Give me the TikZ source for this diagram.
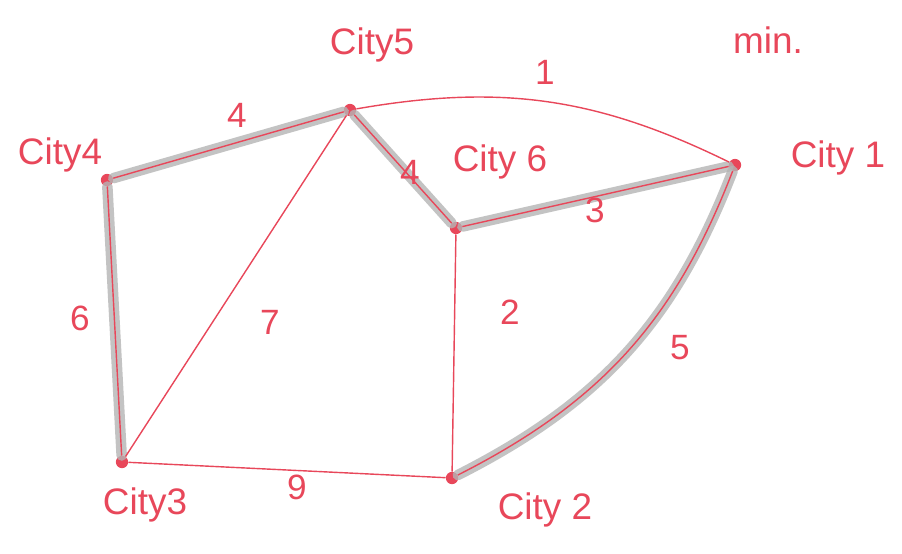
\documentclass[tikz,border=0pt]{standalone}
\usepackage{fontspec}
\setmainfont{Liberation Sans}
\usepackage{xcolor}
\usetikzlibrary{positioning,calc}
\definecolor{penred}{HTML}{E8475A}
\definecolor{pencil}{HTML}{B4B4B4}

\begin{document}
\begin{tikzpicture}[x=0.02cm, y=-0.02cm,
  city/.style={circle, fill=penred, inner sep=0pt, minimum size=7pt},
  cname/.style={text=penred, font=\fontsize{21}{23}\selectfont},
  weight/.style={text=penred, font=\fontsize{20}{22}\selectfont},
  road/.style={draw=penred, line width=0.8pt},
  marked/.style={draw=pencil, line width=6pt, line cap=round, opacity=0.8},
  ]
  \useasboundingbox (0,0) rectangle (902,554);

  % cities
  \node[city] (c5) at (350,110) {};
  \node[city] (c4) at (107,180) {};
  \node[city] (c6) at (456,228) {};
  \node[city] (c1) at (735,165) {};
  \node[city] (c3) at (122,462) {};
  \node[city] (c2) at (452,478) {};

  % pencil marks on chosen roads
  \draw[marked] (c4) -- (c5);
  \draw[marked] (c4) -- (c3);
  \draw[marked] (c5) -- (c6);
  \draw[marked] (c6) -- (c1);
  \draw[marked] (c1) to[bend left=21] (c2);

  % roads
  \draw[road] (c5) to[bend left=18] (c1);
  \draw[road] (c4) -- (c5);
  \draw[road] (c5) -- (c6);
  \draw[road] (c6) -- (c1);
  \draw[road] (c4) -- (c3);
  \draw[road] (c5) -- (c3);
  \draw[road] (c6) -- (c2);
  \draw[road] (c1) to[bend left=21] (c2);
  \draw[road] (c3) -- (c2);

  % names
  \node[cname] (n5) at (372,45) {City5};
  \node[cname] (n4) at (60,155) {City4};
  \node[cname] (n6) at (500,162) {City 6};
  \node[cname] (n1) at (838,158) {City 1};
  \node[cname] (n3) at (145,505) {City3};
  \node[cname] (n2) at (545,510) {City 2};

  % weights
  \node[weight] (w45) at (237,115) {4};
  \node[weight] (w51) at (545,72) {1};
  \node[weight] (w56) at (410,172) {4};
  \node[weight] (w61) at (595,210) {3};
  \node[weight] (w43) at (80,318) {6};
  \node[weight] (w53) at (270,322) {7};
  \node[weight] (w62) at (510,312) {2};
  \node[weight] (w12) at (680,348) {5};
  \node[weight] (w32) at (297,487) {9};

  \node[cname] (note) at (768,40) {min.};
\end{tikzpicture}
\end{document}
